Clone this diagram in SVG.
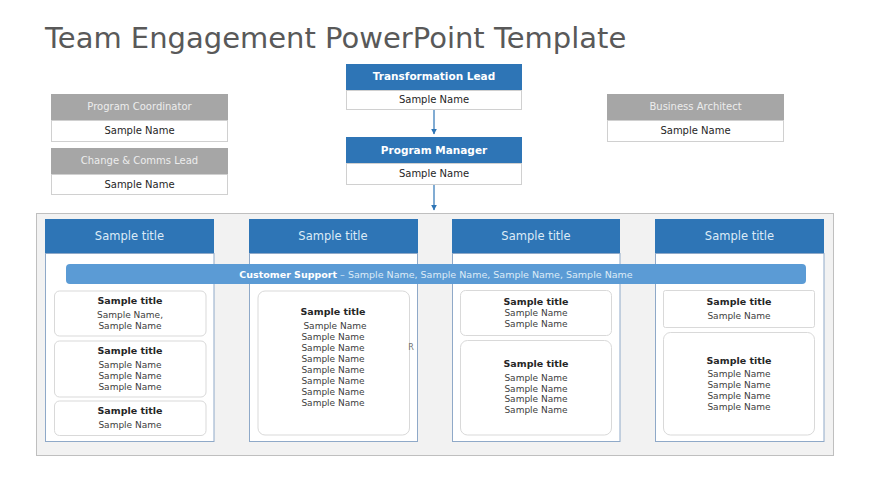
<svg xmlns="http://www.w3.org/2000/svg" width="870" height="489" viewBox="0 0 870 489">
<style>
text{font-family:"DejaVu Sans","Liberation Sans",sans-serif;text-anchor:middle}
.ttl{font-size:29px;fill:#595959;text-anchor:start}
.gh{fill:#a6a6a6}
.ghT{font-size:10px;fill:#ededed}
.wb{fill:#fff;stroke:#d0d0d0;stroke-width:1}
.nm{font-size:10px;fill:#262626}
.bh{fill:#2e75b6}
.bhT{font-size:10.5px;fill:#fff;font-weight:bold}
.col{fill:#fff;stroke:#8fa9c8;stroke-width:1}
.colT{font-size:11.5px;fill:#ddebf7}
.card{fill:#fff;stroke:#d9d9d9;stroke-width:1}
.ct{font-size:9.5px;font-weight:bold;fill:#262626}
.cn{font-size:9px;fill:#404040}
.conn{stroke:#2e75b6;stroke-width:1.2;fill:none}
</style>
<defs>
<marker id="ah" viewBox="0 0 10 10" refX="9" refY="5" markerWidth="5" markerHeight="5" orient="auto">
<path d="M0,0 L10,5 L0,10 z" fill="#2e75b6"/>
</marker>
</defs>
<rect width="870" height="489" fill="#fff"/>
<text class="ttl" x="45" y="48">Team Engagement PowerPoint Template</text>

<g id="program-coordinator">
<rect class="gh" x="51" y="94" width="177" height="26"/>
<rect class="wb" x="51.5" y="120.5" width="176" height="21"/>
<text class="ghT" x="139.5" y="110">Program Coordinator</text>
<text class="nm" x="139.5" y="134">Sample Name</text>
</g>
<g id="change-comms-lead">
<rect class="gh" x="51" y="148" width="177" height="26"/>
<rect class="wb" x="51.5" y="174.5" width="176" height="20"/>
<text class="ghT" x="139.5" y="164">Change &amp; Comms Lead</text>
<text class="nm" x="139.5" y="188">Sample Name</text>
</g>
<g id="business-architect">
<rect class="gh" x="607" y="94" width="177" height="26"/>
<rect class="wb" x="607.5" y="120.5" width="176" height="21"/>
<text class="ghT" x="695.5" y="110">Business Architect</text>
<text class="nm" x="695.5" y="134">Sample Name</text>
</g>
<g id="transformation-lead">
<rect class="bh" x="346" y="64" width="176" height="26"/>
<rect class="wb" x="346.5" y="90.5" width="175" height="19" stroke="#2e75b6"/>
<text class="bhT" x="434" y="80">Transformation Lead</text>
<text class="nm" x="434" y="103">Sample Name</text>
</g>
<g id="program-manager">
<rect class="bh" x="346" y="137" width="176" height="26"/>
<rect class="wb" x="346.5" y="163.5" width="175" height="21" stroke="#2e75b6"/>
<text class="bhT" x="434" y="154">Program Manager</text>
<text class="nm" x="434" y="177">Sample Name</text>
</g>

<g id="connectors">
<line class="conn" x1="434" y1="110" x2="434" y2="134" marker-end="url(#ah)"/>
<line class="conn" x1="434" y1="185" x2="434" y2="210" marker-end="url(#ah)"/>
</g>

<g id="container">
<rect x="36.5" y="213.5" width="797" height="242" fill="#f2f2f2" stroke="#bfbfbf"/>
</g>

<g id="column-1">
<rect class="col" x="45.5" y="253.5" width="168.5" height="188"/>
<rect class="bh" x="45" y="219" width="169" height="34"/>
<text class="colT" x="129.5" y="240">Sample title</text>
<rect class="card" x="54.5" y="291" width="151.5" height="45" rx="5"/>
<text class="ct" x="130" y="304">Sample title</text>
<text class="cn" x="130" y="318">Sample Name,</text>
<text class="cn" x="130" y="329">Sample Name</text>
<rect class="card" x="54.5" y="341" width="151.5" height="56" rx="5"/>
<text class="ct" x="130" y="354">Sample title</text>
<text class="cn" x="130" y="368">Sample Name</text>
<text class="cn" x="130" y="379">Sample Name</text>
<text class="cn" x="130" y="390">Sample Name</text>
<rect class="card" x="54.5" y="401" width="151.5" height="34.5" rx="5"/>
<text class="ct" x="130" y="414">Sample title</text>
<text class="cn" x="130" y="428">Sample Name</text>
</g>

<g id="column-2">
<rect class="col" x="249.5" y="253.5" width="168" height="188"/>
<rect class="bh" x="249" y="219" width="169" height="34"/>
<text class="colT" x="333" y="240">Sample title</text>
<rect class="card" x="258" y="291" width="151.5" height="144" rx="7"/>
<text class="ct" x="333" y="315">Sample title</text>
<text class="cn" x="335" y="329">Sample Name</text>
<text class="cn" x="333" y="340">Sample Name</text>
<text class="cn" x="333" y="351">Sample Name</text>
<text class="cn" x="333" y="362">Sample Name</text>
<text class="cn" x="333" y="373">Sample Name</text>
<text class="cn" x="333" y="384">Sample Name</text>
<text class="cn" x="333" y="395">Sample Name</text>
<text class="cn" x="333" y="406">Sample Name</text>
<text x="411" y="350" style="font-size:8px;fill:#737373">R</text>
</g>

<g id="column-3">
<rect class="col" x="452.5" y="253.5" width="167.5" height="188"/>
<rect class="bh" x="452" y="219" width="168" height="34"/>
<text class="colT" x="536" y="240">Sample title</text>
<rect class="card" x="460.5" y="290.5" width="151" height="45" rx="5"/>
<text class="ct" x="536" y="305">Sample title</text>
<text class="cn" x="536" y="316">Sample Name</text>
<text class="cn" x="536" y="327">Sample Name</text>
<rect class="card" x="460.5" y="340.5" width="151" height="94.5" rx="7"/>
<text class="ct" x="536" y="367">Sample title</text>
<text class="cn" x="536" y="381">Sample Name</text>
<text class="cn" x="536" y="392">Sample Name</text>
<text class="cn" x="536" y="402">Sample Name</text>
<text class="cn" x="536" y="413">Sample Name</text>
</g>

<g id="column-4">
<rect class="col" x="655.5" y="253.5" width="168.5" height="188"/>
<rect class="bh" x="655" y="219" width="169" height="34"/>
<text class="colT" x="739.5" y="240">Sample title</text>
<rect class="card" x="663.5" y="290.5" width="151" height="37" rx="2"/>
<text class="ct" x="739" y="305">Sample title</text>
<text class="cn" x="739" y="319">Sample Name</text>
<rect class="card" x="663.5" y="332.5" width="151" height="102.5" rx="7"/>
<text class="ct" x="739" y="364">Sample title</text>
<text class="cn" x="739" y="377">Sample Name</text>
<text class="cn" x="739" y="388">Sample Name</text>
<text class="cn" x="739" y="399">Sample Name</text>
<text class="cn" x="739" y="410">Sample Name</text>
</g>

<g id="customer-support">
<rect x="66" y="264" width="740" height="20" rx="4" fill="#5b9bd5"/>
<text x="436" y="277.5" style="font-size:9.5px;fill:#ddebf7"><tspan style="font-weight:bold;fill:#fff">Customer Support</tspan> – Sample Name, Sample Name, Sample Name, Sample Name</text>
</g>
</svg>
